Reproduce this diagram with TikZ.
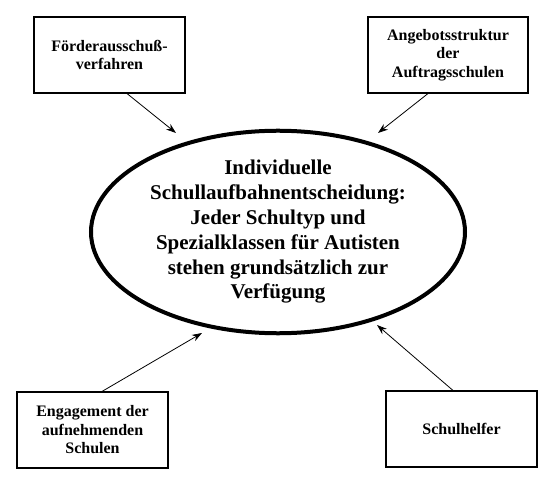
\documentclass[tikz,border=0pt]{standalone}
\usepackage{fontspec}
\setmainfont{Liberation Serif}
\usetikzlibrary{arrows.meta,calc,shapes.geometric}
\begin{document}
\begin{tikzpicture}[x=1pt,y=-1pt,
  box/.style={draw,line width=1.1pt,minimum width=151pt,minimum height=76pt,inner sep=0pt,align=center,
    font=\fontsize{16}{18.5}\selectfont\bfseries},
  main/.style={draw,ellipse,line width=4pt,minimum width=374pt,minimum height=196pt,inner sep=0pt,align=center,
    font=\fontsize{21}{24.8}\selectfont\bfseries},
  arr/.style={line width=0.8pt,-{Stealth[length=10pt,width=7pt]}}]
\useasboundingbox (0,0) rectangle (550,484);
\node[main] (c) at (278,232) {Individuelle\\Schullaufbahnentscheidung:\\Jeder Schultyp und\\Spezialklassen für Autisten\\stehen grundsätzlich zur\\Verfügung};
\node[box] (b1) at (109.5,55) {Förderausschuß-\\verfahren};
\node[box,minimum width=160pt] (b2) at (448,55) {Angebotsstruktur\\der\\Auftragsschulen};
\node[box] (b3) at (92.5,430) {Engagement der\\aufnehmenden\\Schulen};
\node[box] (b4) at (461.5,429) {Schulhelfer};
\coordinate (e1) at (176,133);
\coordinate (e2) at (378,133);
\coordinate (e3) at (202,333);
\coordinate (e4) at (377,325);
\draw[arr] ($(b1.south)+(17.5,0)$) -- (e1);
\draw[arr] ($(b2.south)+(-20,0)$) -- (e2);
\draw[arr] ($(b3.north)+(9.5,0)$) -- (e3);
\draw[arr] ($(b4.north)+(-8.5,0)$) -- (e4);
\end{tikzpicture}
\end{document}
